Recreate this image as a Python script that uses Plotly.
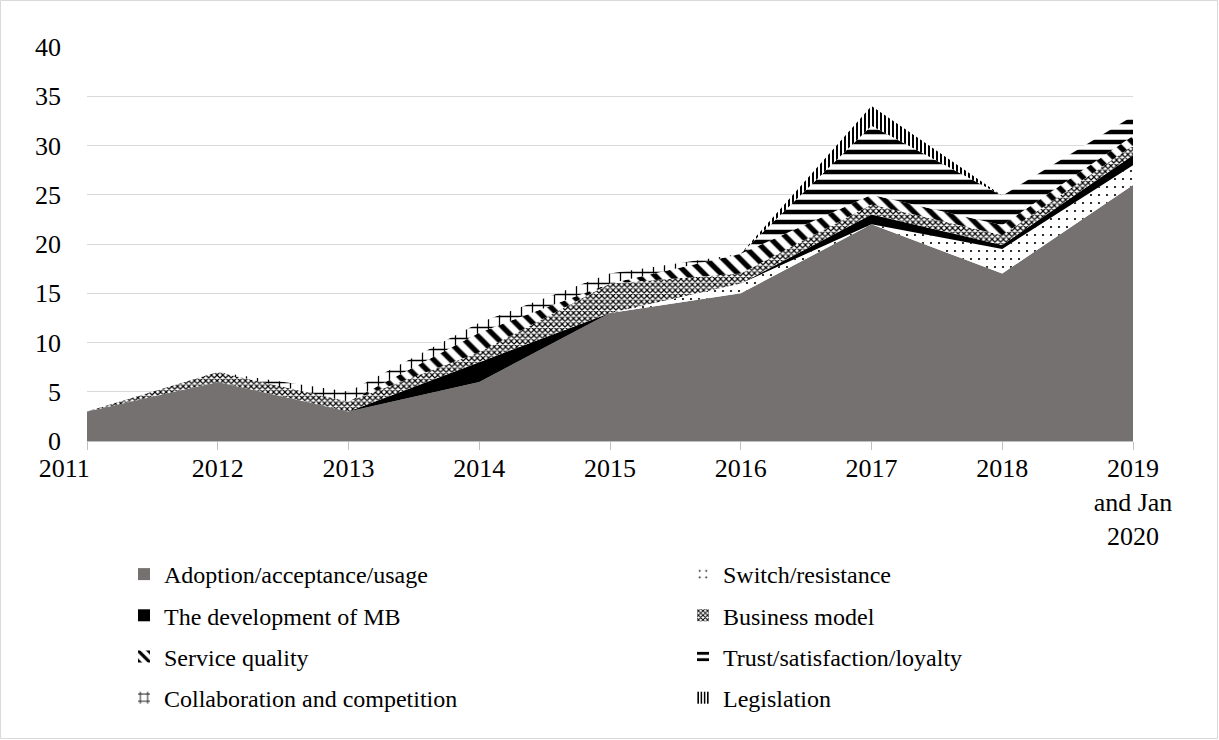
import plotly.graph_objects as go

years = ["2011", "2012", "2013", "2014", "2015", "2016", "2017", "2018", "2019<br>and Jan<br>2020"]
year_labels = ["2011" + "&nbsp;" * 7, "2012", "2013", "2014", "2015", "2016", "2017", "2018",
               "2019<br>and Jan<br>2020"]

adoption = [3, 6, 3, 6, 13, 15, 22, 17, 26]
switch = [0, 0, 0, 0, 0, 1, 0, 2.5, 2]
development = [0, 0, 0, 2, 0, 0, 1, 0.4, 1]
business_model = [0, 1, 1, 1, 3, 1, 1, 1, 1]
service_quality = [0, 0, 0, 2, 0, 2, 1, 1, 1]
trust = [0, 0, 0, 0, 0, 0, 7, 3, 2]
collaboration = [0, 0, 1, 1, 1, 0, 0, 0, 0]
legislation = [0, 0, 0, 0, 0, 0, 2, 0, 0]

y_ticks = [0, 5, 10, 15, 20, 25, 30, 35, 40]

series = [
    ("Adoption/acceptance/usage", adoption, dict(kind="solid", color="#767171"), "legend"),
    ("Switch/resistance", switch, dict(kind="pattern", shape=".", size=8, solidity=0.06), "legend2"),
    ("The development of MB", development, dict(kind="solid", color="#000000"), "legend"),
    ("Business model", business_model, dict(kind="pattern", shape="x", size=4, solidity=0.5), "legend2"),
    ("Service quality", service_quality, dict(kind="pattern", shape="\\", size=12, solidity=0.45), "legend"),
    ("Trust/satisfaction/loyalty", trust, dict(kind="pattern", shape="-", size=10, solidity=0.45), "legend2"),
    ("Collaboration and competition", collaboration, dict(kind="pattern", shape="+", size=11, solidity=0.22), "legend"),
    ("Legislation", legislation, dict(kind="pattern", shape="|", size=4, solidity=0.5), "legend2"),
]

fig = go.Figure()
for name, vals, st, lg in series:
    kw = dict(x=years, y=vals, name=name, mode="none", stackgroup="one",
              hoverinfo="x+y+name", showlegend=False, legendgroup=name)
    if st["kind"] == "solid":
        kw["fillcolor"] = st["color"]
    else:
        kw["fillcolor"] = "white"
        kw["fillpattern"] = dict(shape=st["shape"], size=st["size"], solidity=st["solidity"],
                                 fgcolor="black", bgcolor="white", fillmode="replace")
    fig.add_trace(go.Scatter(**kw))

# legend-only swatches (square symbols like the original)
for name, vals, st, lg in series:
    if st["kind"] == "solid":
        marker = dict(color=st["color"], line=dict(width=0))
    else:
        psize = {"\\": 9, "-": 8, "+": 9}.get(st["shape"], st["size"])
        marker = dict(color="white", line=dict(width=0),
                      pattern=dict(shape=st["shape"], size=psize, solidity=st["solidity"],
                                   fgcolor="black", bgcolor="white", fillmode="replace"))
    fig.add_trace(go.Bar(x=[None], y=[None], name=name, marker=marker, legend=lg,
                         legendgroup=name, showlegend=True, hoverinfo="skip"))

W, H = 1219, 740
ml, mr, mt, mb = 87, 86, 47, 299
pw, ph = W - ml - mr, H - mt - mb

def px_x(p):
    return (p - ml) / pw

def px_y(p):
    return (H - mb - p) / ph

font = "Liberation Serif, Times New Roman, serif"

legend_common = dict(
    orientation="v", xanchor="left", yanchor="top",
    font=dict(family=font, size=24, color="black"),
    traceorder="grouped", tracegroupgap=7, itemwidth=30, bgcolor="rgba(0,0,0,0)",
    itemclick=False, itemdoubleclick=False,
)

fig.update_layout(
    width=W, height=H,
    margin=dict(l=ml, r=mr, t=mt, b=mb),
    paper_bgcolor="white", plot_bgcolor="white",
    font=dict(family=font, size=24, color="black"),
    showlegend=True,
    legend=dict(x=px_x(124), y=px_y(552), **legend_common),
    legend2=dict(x=px_x(683), y=px_y(552), **legend_common),
    xaxis=dict(
        type="category", range=[0, 8], showgrid=False,
        tickvals=years, ticktext=year_labels,
        showline=True, linecolor="#bfbfbf", linewidth=1,
        ticks="outside", ticklen=8, tickcolor="#bfbfbf",
        tickfont=dict(family=font, size=26, color="black"),
        ticklabelstandoff=-4, fixedrange=True,
    ),
    yaxis=dict(
        range=[0, 40], tickvals=y_ticks, showgrid=True, gridcolor="#d9d9d9", gridwidth=1,
        zeroline=False, showline=False, ticks="",
        tickfont=dict(family=font, size=26, color="black"),
        ticklabelstandoff=25, fixedrange=True,
    ),
    shapes=[dict(type="rect", xref="paper", yref="paper",
                 x0=px_x(0.5), x1=px_x(W - 1.5), y0=px_y(H - 1.5), y1=px_y(0.5),
                 line=dict(color="#d9d9d9", width=1), fillcolor="rgba(0,0,0,0)", layer="below")],
)

fig.write_html("out.html")
